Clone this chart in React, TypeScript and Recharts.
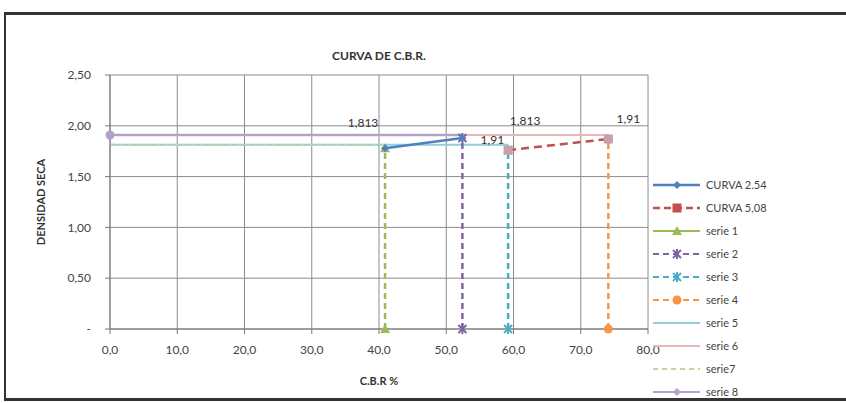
import React from "react";
import { LineChart, Line, XAxis, YAxis, CartesianGrid } from "recharts";

// punto C.B.R. por curva (x = C.B.R %, y = densidad seca)
const curva254 = [
  { x: 40.9, y: 1.78 },
  { x: 52.4, y: 1.88 },
];
const curva508 = [
  { x: 59.2, y: 1.76 },
  { x: 74.1, y: 1.87 },
];
const serie1 = [
  { x: 40.9, y: 0 },
  { x: 40.9, y: 1.78 },
];
const serie2 = [
  { x: 52.4, y: 0 },
  { x: 52.4, y: 1.88 },
];
const serie3 = [
  { x: 59.2, y: 0 },
  { x: 59.2, y: 1.76 },
];
const serie4 = [
  { x: 74.1, y: 0 },
  { x: 74.1, y: 1.87 },
];
const serie5 = [
  { x: 0, y: 1.813 },
  { x: 59.2, y: 1.813 },
];
const serie6 = [
  { x: 0, y: 1.91 },
  { x: 74.1, y: 1.91 },
];
const serie7 = [
  { x: 0, y: 1.813 },
  { x: 40.9, y: 1.813 },
];
const serie8 = [
  { x: 0, y: 1.91 },
  { x: 52.4, y: 1.91 },
];

const xTicks = [0, 10, 20, 30, 40, 50, 60, 70, 80];
const yTicks = [0, 0.5, 1, 1.5, 2, 2.5];

const FONT = "Lato, 'Open Sans', sans-serif";

type Marker = "diamond" | "square" | "triangle" | "star" | "circle" | "none";

function drawMarker(kind: Marker, cx: number, cy: number, color: string, key?: any) {
  if (kind === "square")
    return <rect key={key} x={cx - 4} y={cy - 4} width={8} height={8} fill={color} stroke={color} />;
  if (kind === "triangle")
    return <path key={key} d={`M${cx},${cy - 5} L${cx + 5},${cy + 4} L${cx - 5},${cy + 4} Z`} fill={color} />;
  if (kind === "diamond")
    return <path key={key} d={`M${cx},${cy - 4} L${cx + 4},${cy} L${cx},${cy + 4} L${cx - 4},${cy} Z`} fill={color} />;
  if (kind === "circle") return <circle key={key} cx={cx} cy={cy} r={4.5} fill={color} />;
  if (kind === "star")
    return (
      <g key={key} stroke={color} strokeWidth={2}>
        <line x1={cx - 4} y1={cy - 4} x2={cx + 4} y2={cy + 4} />
        <line x1={cx - 4} y1={cy + 4} x2={cx + 4} y2={cy - 4} />
        <line x1={cx} y1={cy - 5} x2={cx} y2={cy + 5} />
      </g>
    );
  return <g key={key} />;
}

const dotFor = (kind: Marker, color: string, onlyFirst = false) => (p: any) => {
  if (onlyFirst && p.index !== 0) return <g key={p.key ?? p.index} />;
  return drawMarker(kind, p.cx, p.cy, color, p.key ?? p.index);
};

const labelAt = (idx: number, text: string, dx: number, dy: number) => (p: any) => {
  if (p.index !== idx) return <g key={`l${p.index}`} />;
  return (
    <text
      key={`l${p.index}`}
      x={p.x + dx}
      y={p.y + dy}
      textAnchor="middle"
      fontSize={12}
      fontFamily={FONT}
      fill="#333"
    >
      {text}
    </text>
  );
};

const legendItems: { name: string; color: string; dash?: string; marker: Marker; width: number }[] = [
  { name: "CURVA 2.54", color: "#4F81BD", marker: "diamond", width: 2.5 },
  { name: "CURVA 5,08", color: "#C0504D", dash: "7 4", marker: "square", width: 2.5 },
  { name: "serie 1", color: "#9BBB59", marker: "triangle", width: 2 },
  { name: "serie 2", color: "#8064A2", dash: "6 4", marker: "star", width: 2 },
  { name: "serie 3", color: "#4BACC6", dash: "6 4", marker: "star", width: 2 },
  { name: "serie 4", color: "#F79646", dash: "6 4", marker: "circle", width: 2 },
  { name: "serie 5", color: "#93CDDD", marker: "none", width: 2 },
  { name: "serie 6", color: "#E6B9B8", marker: "none", width: 2 },
  { name: "serie7", color: "#C3D69B", dash: "5 4", marker: "none", width: 2 },
  { name: "serie 8", color: "#B3A2C7", marker: "diamond", width: 2 },
];

function LegendBox() {
  return (
    <div style={{ fontFamily: FONT, fontSize: 11, color: "#444" }}>
      {legendItems.map((it) => (
        <div key={it.name} style={{ display: "flex", alignItems: "center", height: 23 }}>
          <svg width={50} height={12}>
            <line x1={1} y1={6} x2={48} y2={6} stroke={it.color} strokeWidth={it.width} strokeDasharray={it.dash} />
            {drawMarker(it.marker, 25, 6, it.color)}
          </svg>
          <span style={{ marginLeft: 4 }}>{it.name}</span>
        </div>
      ))}
    </div>
  );
}

const fmtY = (v: number) => (v === 0 ? "-" : v.toFixed(2).replace(".", ","));
const fmtX = (v: number) => v.toFixed(1).replace(".", ",");

export default function App() {
  return (
    <div style={{ position: "absolute", left: 0, top: 0, width: 846, height: 403, background: "#fff", overflow: "hidden" }}>
      <div
        style={{
          position: "absolute",
          left: 4,
          top: 12,
          width: 850,
          height: 383,
          borderTop: "3px solid #333",
          borderLeft: "2px solid #333",
          borderBottom: "3px solid #333",
        }}
      />
      <div
        style={{
          position: "absolute",
          left: 0,
          top: 48,
          width: 758,
          textAlign: "center",
          fontFamily: FONT,
          fontWeight: 700,
          fontSize: 12,
          color: "#333",
        }}
      >
        CURVA DE C.B.R.
      </div>
      <div style={{ position: "absolute", left: 0, top: 0 }}>
        <LineChart width={846} height={403} margin={{ top: 75, right: 198, bottom: 44, left: 50 }}>
          <CartesianGrid stroke="#8c8c8c" strokeWidth={1} />
          <XAxis
            type="number"
            dataKey="x"
            height={30}
            domain={[0, 80]}
            ticks={xTicks}
            tickFormatter={fmtX}
            stroke="#777"
            tickSize={5}
            tickMargin={11}
            tick={{ fill: "#444", fontSize: 12, fontFamily: FONT }}
            label={{
              content: () => (
                <text x={379} y={385} textAnchor="middle" fontSize={11} fontWeight={700} fontFamily={FONT} fill="#333">
                  C.B.R %
                </text>
              ),
            }}
          />
          <YAxis
            type="number"
            dataKey="y"
            width={60}
            domain={[0, 2.5]}
            ticks={yTicks}
            tickFormatter={fmtY}
            stroke="#777"
            tickSize={5}
            tickMargin={14}
            tick={{ fill: "#444", fontSize: 12, fontFamily: FONT }}
            label={{
              content: () => (
                <text
                  x={45}
                  y={202}
                  transform="rotate(-90 45 202)"
                  textAnchor="middle"
                  fontSize={11}
                  fontWeight={700}
                  fontFamily={FONT}
                  fill="#333"
                >
                  DENSIDAD SECA
                </text>
              ),
            }}
          />
          <Line data={serie5} dataKey="y" name="serie 5" stroke="#93CDDD" strokeWidth={2} dot={false} isAnimationActive={false}
            label={labelAt(1, "1,813", 17, -20)} />
          <Line data={serie6} dataKey="y" name="serie 6" stroke="#E6B9B8" strokeWidth={2} dot={false} isAnimationActive={false}
            label={labelAt(1, "1,91", 20, -12)} />
          <Line data={serie7} dataKey="y" name="serie7" stroke="#C3D69B" strokeWidth={2} strokeDasharray="5 4" dot={false} isAnimationActive={false}
            label={labelAt(1, "1,813", -22, -18)} />
          <Line data={serie8} dataKey="y" name="serie 8" stroke="#B3A2C7" strokeWidth={2.5} dot={dotFor("circle", "#B3A2C7", true)} isAnimationActive={false}
            label={labelAt(1, "1,91", 30, 9)} />
          <Line data={serie1} dataKey="y" name="serie 1" stroke="#9BBB59" strokeWidth={2.5} strokeDasharray="6 4" dot={dotFor("triangle", "#9BBB59")} isAnimationActive={false} />
          <Line data={serie2} dataKey="y" name="serie 2" stroke="#8064A2" strokeWidth={2.5} strokeDasharray="6 4" dot={dotFor("star", "#8064A2")} isAnimationActive={false} />
          <Line data={serie3} dataKey="y" name="serie 3" stroke="#4BACC6" strokeWidth={2.5} strokeDasharray="6 4" dot={dotFor("star", "#4BACC6")} isAnimationActive={false} />
          <Line data={serie4} dataKey="y" name="serie 4" stroke="#F79646" strokeWidth={2.5} strokeDasharray="6 4" dot={dotFor("circle", "#F79646")} isAnimationActive={false} />
          <Line data={curva254} dataKey="y" name="CURVA 2.54" stroke="#4F81BD" strokeWidth={2.5} dot={dotFor("diamond", "#4F81BD")} isAnimationActive={false} />
          <Line data={curva508} dataKey="y" name="CURVA 5,08" stroke="#C0504D" strokeWidth={2.5} strokeDasharray="8 5" dot={dotFor("square", "#C9A0A8")} isAnimationActive={false} />
        </LineChart>
      </div>
      <div style={{ position: "absolute", left: 652, top: 173 }}>
        <LegendBox />
      </div>
    </div>
  );
}
